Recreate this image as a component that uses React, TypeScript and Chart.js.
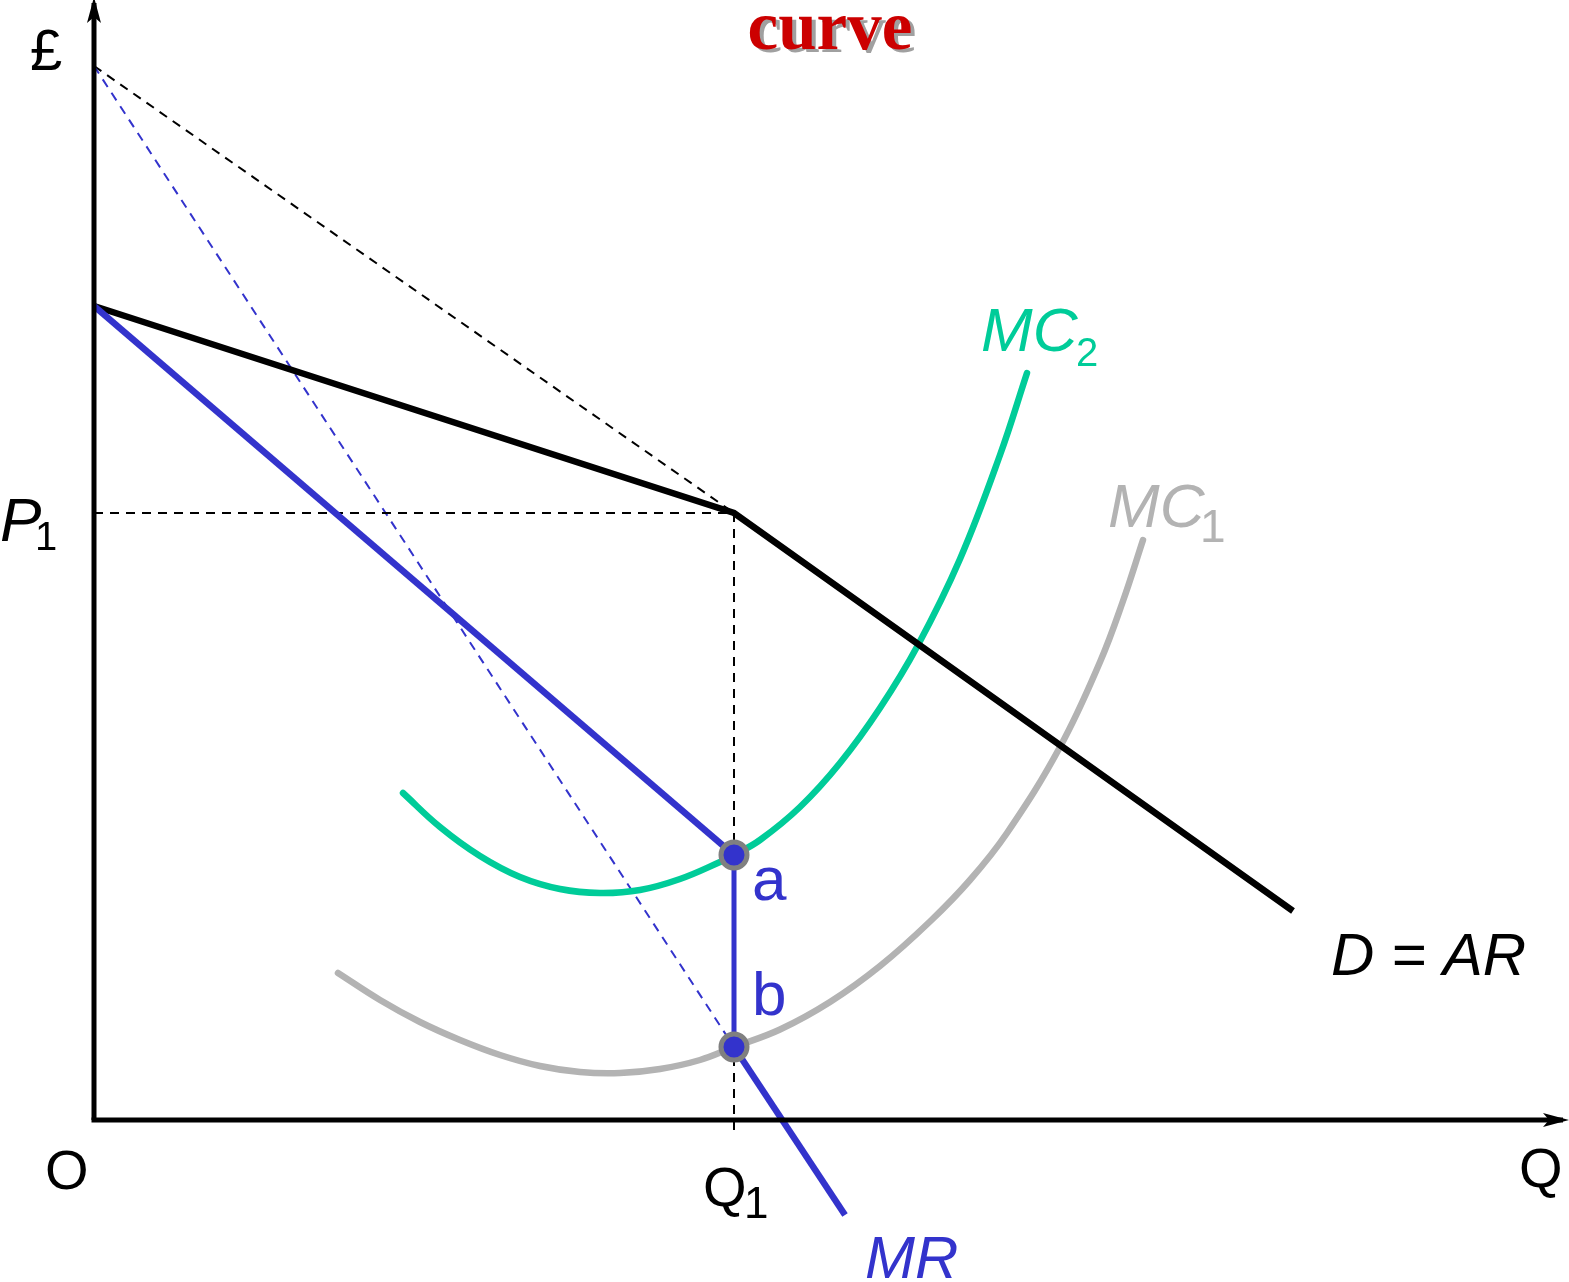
import React, { useEffect, useRef } from "react";
import { Chart, registerables } from "chart.js";

Chart.register(...registerables);

// Economic units: quantity (x) and price (y)
const demandX = [0, 64.0, 119.9];
const demandY = [81.4, 60.7, 20.9];

const mrUpperX = [0, 64.0];
const mrUpperY = [81.4, 26.5];
const mrGapX = [64.0, 64.0];
const mrGapY = [26.5, 7.3];
const mrLowerX = [64.0, 75.1];
const mrLowerY = [7.3, -9.5];

const extDemandX = [0, 64.0];
const extDemandY = [105.4, 60.7];
const extMrX = [0, 64.0];
const extMrY = [105.4, 7.3];

const mc2X = [30.9, 34.6, 38.6, 42.6, 46.6, 50.6, 54.6, 58.6, 62.6, 64.0, 66.6, 70.6, 74.6, 78.6, 82.4, 86.6, 90.6, 93.3];
const mc2Y = [32.7, 29.3, 26.4, 24.3, 23.1, 22.7, 23.0, 24.1, 25.8, 26.5, 28.0, 31.3, 35.7, 41.2, 47.5, 56.1, 66.5, 74.7];

const mc1X = [24.4, 28.6, 32.6, 36.6, 40.6, 44.6, 48.6, 52.6, 56.6, 60.6, 64.0, 68.6, 73.6, 78.6, 83.6, 87.6, 91.3, 96.6, 100.6, 102.9, 104.9];
const mc1Y = [14.7, 12.0, 9.8, 8.0, 6.5, 5.4, 4.8, 4.7, 5.1, 6.0, 7.3, 9.05, 11.8, 15.4, 19.85, 24.0, 28.7, 37.3, 45.8, 51.9, 58.0];

const priceP1 = 60.7;
const quantityQ1 = 64.0;
const pointsX = [64.0, 64.0];
const pointsY = [26.5, 7.3];
const axisXMax = 146.9;
const axisYMax = 111.7;

const zip = (xs: number[], ys: number[]) => xs.map((x, i) => ({ x, y: ys[i] }));

const BLUE = "#3333cc";
const GREEN = "#00cc99";
const GRAY = "#b3b3b3";

export default function App() {
  const ref = useRef<HTMLCanvasElement | null>(null);

  useEffect(() => {
    document.body.style.margin = "0";
    const canvas = ref.current;
    if (!canvas) return;

    const labelsPlugin = {
      id: "labels",
      afterDraw(chart: any) {
        const ctx = chart.ctx;
        const sx = chart.scales.x;
        const sy = chart.scales.y;
        const px = (v: number) => sx.getPixelForValue(v);
        const py = (v: number) => sy.getPixelForValue(v);
        ctx.save();

        const arrow = (tx: number, ty: number, dir: "up" | "right") => {
          ctx.fillStyle = "#000";
          ctx.beginPath();
          if (dir === "up") {
            ctx.moveTo(tx, ty);
            ctx.lineTo(tx + 7, ty + 26);
            ctx.lineTo(tx, ty + 20);
            ctx.lineTo(tx - 7, ty + 26);
          } else {
            ctx.moveTo(tx, ty);
            ctx.lineTo(tx - 26, ty + 7);
            ctx.lineTo(tx - 20, ty);
            ctx.lineTo(tx - 26, ty - 7);
          }
          ctx.closePath();
          ctx.fill();
        };
        arrow(px(0), py(axisYMax) - 6, "up");
        arrow(px(axisXMax) + 6, py(0), "right");

        const text = (s: string, x: number, y: number, font: string, color: string, align: CanvasTextAlign = "left") => {
          ctx.font = font;
          ctx.fillStyle = color;
          ctx.textAlign = align;
          ctx.textBaseline = "alphabetic";
          ctx.fillText(s, x, y);
        };
        const SANS = '"Liberation Sans", Arial, sans-serif';

        text("curve", 834, 52, 'bold 69px "Liberation Serif", serif', "#a0a0a0", "center");
        text("curve", 830, 49, 'bold 69px "Liberation Serif", serif', "#cc0000", "center");

        text("£", 30, 70, `58px ${SANS}`, "#000");
        text("P", 0, 541, `italic 62px ${SANS}`, "#000");
        text("1", 35, 550, `40px ${SANS}`, "#000");
        text("O", 45, 1189, `56px ${SANS}`, "#000");
        text("Q", 1519, 1187, `56px ${SANS}`, "#000");
        text("Q", 703, 1206, `56px ${SANS}`, "#000");
        text("1", 744, 1218, `44px ${SANS}`, "#000");
        text("MR", 865, 1278, `italic 60px ${SANS}`, BLUE);
        text("a", 752, 900, `62px ${SANS}`, BLUE);
        text("b", 752, 1015, `62px ${SANS}`, BLUE);
        text("MC", 981, 351, `italic 62px ${SANS}`, GREEN);
        text("2", 1076, 366, `40px ${SANS}`, GREEN);
        text("MC", 1108, 527, `italic 62px ${SANS}`, GRAY);
        text("1", 1200, 542, `46px ${SANS}`, GRAY);
        text("D = AR", 1331, 975, `italic 60px ${SANS}`, "#000");
        ctx.restore();
      },
    };

    let order = 0;
    const line = (data: any[], color: string, width: number, extra: any = {}) => ({
      data,
      showLine: true,
      borderColor: color,
      backgroundColor: color,
      borderWidth: width,
      pointRadius: 0,
      pointHoverRadius: 0,
      fill: false,
      tension: 0,
      clip: false,
      order: 100 - order++,
      ...extra,
    });

    const chart = new Chart(canvas, {
      type: "scatter",
      data: {
        datasets: [
          line(zip(extDemandX, extDemandY), "#000", 2, { borderDash: [9, 7] }),
          line(zip(extMrX, extMrY), BLUE, 2, { borderDash: [9, 7] }),
          line([{ x: 0, y: priceP1 }, { x: quantityQ1, y: priceP1 }], "#000", 2, { borderDash: [9, 7] }),
          line([{ x: quantityQ1, y: priceP1 }, { x: quantityQ1, y: -1.5 }], "#000", 2, { borderDash: [9, 7] }),
          line(zip(mc1X, mc1Y), GRAY, 6.5, { tension: 0.4, borderCapStyle: "round" }),
          line(zip(mc2X, mc2Y), GREEN, 6.5, { tension: 0.4, borderCapStyle: "round" }),
          line(zip(demandX, demandY), "#000", 6.5),
          line(zip(mrUpperX, mrUpperY), BLUE, 6.5),
          line(zip(mrGapX, mrGapY), BLUE, 5),
          line(zip(mrLowerX, mrLowerY), BLUE, 6.5),
          line([{ x: 0, y: 0 }, { x: 0, y: axisYMax }], "#000", 5),
          line([{ x: -0.25, y: 0 }, { x: axisXMax, y: 0 }], "#000", 5),
          {
            data: zip(pointsX, pointsY),
            showLine: false,
            pointRadius: 13,
            pointHoverRadius: 13,
            pointBackgroundColor: BLUE,
            pointBorderColor: "#808080",
            pointBorderWidth: 5,
            clip: false,
            order: 0,
          },
        ],
      },
      options: {
        responsive: false,
        animation: false,
        events: [],
        layout: { padding: 0, autoPadding: false },
        plugins: { legend: { display: false }, tooltip: { enabled: false }, title: { display: false } },
        scales: {
          x: { type: "linear", min: -9.4, max: 147.5, display: false },
          y: { type: "linear", min: -16.2, max: 112.0, display: false },
        },
      },
      plugins: [labelsPlugin],
    });

    return () => chart.destroy();
  }, []);

  return (
    <div style={{ position: "absolute", left: 0, top: 0, width: 1569, height: 1282, background: "#fff" }}>
      <canvas ref={ref} width={1569} height={1282} style={{ display: "block" }} />
    </div>
  );
}
